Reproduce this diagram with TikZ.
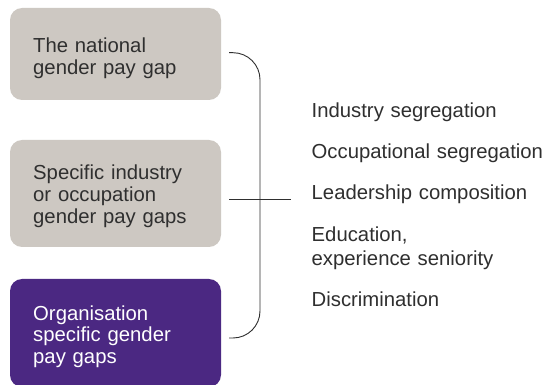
\documentclass[tikz,border=0pt]{standalone}
\usepackage{fontspec}
\setmainfont{Liberation Sans}
\definecolor{boxgrey}{HTML}{CDC8C2}
\definecolor{boxpurple}{HTML}{4B2882}
\definecolor{ink}{HTML}{2F2F2F}
\tikzset{
  gbox/.style={fill=boxgrey, draw=none, rounded corners=12pt},
  pbox/.style={fill=boxpurple, draw=none, rounded corners=12pt},
  boxtext/.style={anchor=base west, inner sep=0pt, text width=185pt, align=left,
    font=\fontsize{20.3}{21.8}\selectfont, text=ink},
  factor/.style={anchor=base west, inner sep=0pt, text width=235pt, align=left,
    font=\fontsize{20.3}{24}\selectfont, text=ink},
  bracket/.style={draw=ink, line width=0.9pt},
}
\begin{document}
\begin{tikzpicture}[x=1pt, y=-1pt]
\useasboundingbox (0,0) rectangle (547,385);
\fill[white] (0,0) rectangle (547,385);
% boxes
\path[gbox] (10,8) rectangle (221,100);
\path[gbox] (10,140) rectangle (221,247);
\path[pbox] (10,279) rectangle (221,387);
\node[boxtext] (t1) at (33,52.3) {The national\\gender pay gap};
\node[boxtext] (t2) at (33,180) {Specific industry\\or occupation\\gender pay gaps};
\node[boxtext, text=white] (t3) at (33,320) {Organisation\\specific gender\\pay gaps};
% factors
\node[factor] (f1) at (311.5,117.7) {Industry segregation};
\node[factor] (f2) at (311.5,158.5) {Occupational segregation};
\node[factor] (f3) at (311.5,200) {Leadership composition};
\node[factor] (f4) at (311.5,241.7) {Education,\\experience seniority};
\node[factor] (f5) at (311.5,307) {Discrimination};
% bracket
\coordinate (bt) at (229,52.7);
\coordinate (bm) at (260,199);
\coordinate (bb) at (229,338);
\coordinate (ml) at (229,199);
\coordinate (mr) at (291,199);
\draw[bracket, rounded corners=27pt] (bt) -| (bm) |- (bb);
\draw[bracket] (ml) -- (mr);
\end{tikzpicture}
\end{document}
